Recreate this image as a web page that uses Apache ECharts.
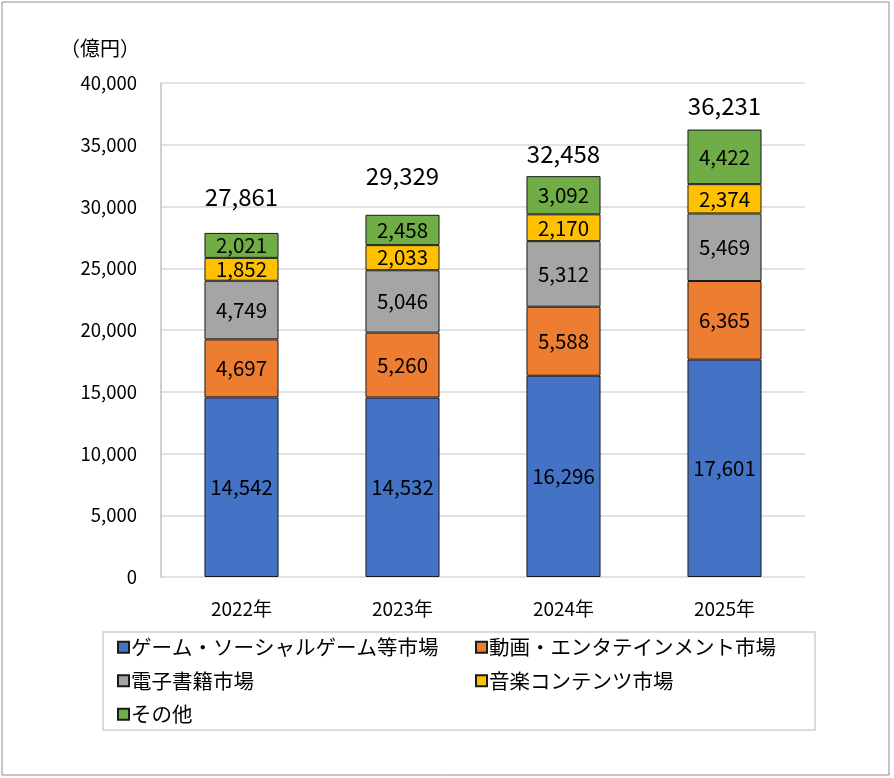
<!DOCTYPE html>
<html><head><meta charset="utf-8">
<script src="https://cdn.jsdelivr.net/npm/echarts@6/dist/echarts.min.js"></script>
<style>html,body{margin:0;padding:0;background:#fff}#c{width:894px;height:778px}</style>
</head><body><div id="c"></div>
<script>
const categories = ['2022年','2023年','2024年','2025年'];
const gameSocial = [14542, 14532, 16296, 17601];
const videoEnt = [4697, 5260, 5588, 6365];
const ebook = [4749, 5046, 5312, 5469];
const music = [1852, 2033, 2170, 2374];
const other = [2021, 2458, 3092, 4422];
const totals = [27861, 29329, 32458, 36231];
const yTicks = [0, 5000, 10000, 15000, 20000, 25000, 30000, 35000, 40000];

const names = ['ゲーム・ソーシャルゲーム等市場','動画・エンタテインメント市場','電子書籍市場','音楽コンテンツ市場','その他'];
const colors = ['#4472C4','#ED7D31','#A5A5A5','#FFC000','#70AD47'];
const dataSets = [gameSocial, videoEnt, ebook, music, other];
const totalLabelGaps = [24, 27, 10, 12];
const FONT = '"Noto Sans CJK JP", "Noto Sans", sans-serif';
const fmt = v => v.toLocaleString('en-US');

const series = dataSets.map((d, i) => ({
  name: names[i], type: 'bar', stack: 'all', data: d, barWidth: '46%',
  itemStyle: { color: colors[i], borderColor: '#1a1a1a', borderWidth: 1 },
  label: { show: true, position: 'inside', color: '#000', fontSize: 20.5, fontFamily: FONT,
    formatter: p => fmt(p.value) }
}));
series.push({
  name: 'total', type: 'bar', stack: 'all', barWidth: '46%',
  data: totals.map((t, i) => ({ value: 0, label: { distance: totalLabelGaps[i] } })),
  itemStyle: { color: 'transparent' }, silent: true,
  label: { show: true, position: 'top', color: '#000', fontSize: 24, fontFamily: FONT,
    formatter: p => fmt(totals[p.dataIndex]) }
});

const chart = echarts.init(document.getElementById('c'));
chart.setOption({
  animation: false,
  textStyle: { fontFamily: FONT },
  graphic: [
    { type: 'rect', shape: { x: 2, y: 2, width: 887, height: 773 }, style: { fill: 'none', stroke: '#8c8c8c', lineWidth: 1 } },
    { type: 'rect', shape: { x: 103, y: 632, width: 712, height: 98 }, style: { fill: 'none', stroke: '#d0d0d0', lineWidth: 1.5 } },
    { type: 'text', left: 60, top: 38, style: { text: '（億円）', fontSize: 20, fill: '#000', fontFamily: FONT } }
  ],
  grid: { left: 161, right: 89, top: 83, bottom: 201 },
  legend: [
    { data: [names[0], names[2], names[4]], orient: 'vertical', left: 112, top: 632, itemWidth: 11, itemHeight: 11, itemGap: 13,
      textStyle: { fontSize: 20.5, color: '#000', fontFamily: FONT, padding: [0,0,0,-3] }, icon: 'rect' },
    { data: [names[1], names[3]], orient: 'vertical', left: 470, top: 632, itemWidth: 11, itemHeight: 11, itemGap: 13,
      textStyle: { fontSize: 20.5, color: '#000', fontFamily: FONT, padding: [0,0,0,-3] }, icon: 'rect' }
  ],
  xAxis: {
    type: 'category', data: categories,
    axisLine: { show: false }, axisTick: { show: false },
    axisLabel: { fontSize: 19, color: '#000', margin: 22, fontFamily: FONT }
  },
  yAxis: {
    type: 'value', min: 0, max: 40000, interval: 5000,
    axisLine: { show: true, lineStyle: { color: '#bfbfbf', width: 1.5 } },
    axisTick: { show: false },
    splitLine: { lineStyle: { color: '#d9d9d9', width: 1.5 } },
    axisLabel: { fontSize: 18.5, color: '#000', margin: 24, fontFamily: FONT,
      formatter: v => yTicks.includes(v) ? fmt(v) : '' }
  },
  series
});
</script></body></html>
